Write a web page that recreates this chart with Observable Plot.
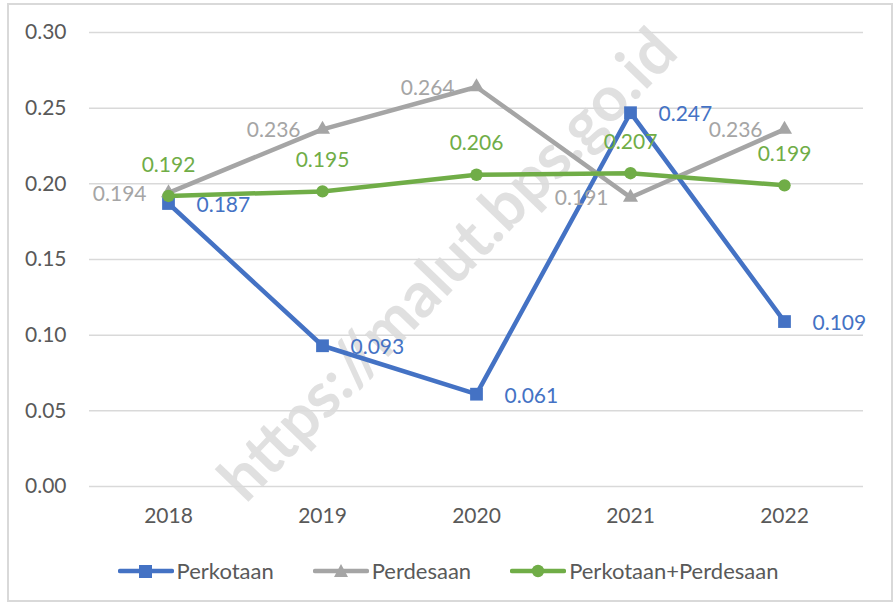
<!DOCTYPE html>
<html><head><meta charset="utf-8">
<script src="https://cdn.jsdelivr.net/npm/d3@7"></script>
<script src="https://cdn.jsdelivr.net/npm/@observablehq/plot@0.6"></script>
<style>
body{margin:0;background:#fff;font-family:Lato,sans-serif;}
#wrap{position:relative;width:896px;height:605px;overflow:hidden;background:#fff;}
#border{position:absolute;left:7px;top:3px;width:886px;height:599px;border:2px solid #d9d9d9;box-sizing:border-box;pointer-events:none}
#chart{position:absolute;left:0;top:0}
#legend{position:absolute;left:0;top:557px;width:896px;display:flex;justify-content:center;gap:39px;font-size:22px;color:#595959;}
.item{display:flex;align-items:center;gap:3px}
</style></head>
<body><div id="wrap"><div id="chart"></div><div id="legend"></div><div id="border"></div></div>
<script>
const years = ["2018","2019","2020","2021","2022"];
const perkotaan = [0.187,0.093,0.061,0.247,0.109];
const perdesaan = [0.194,0.236,0.264,0.191,0.236];
const gabungan = [0.192,0.195,0.206,0.207,0.199];
const seriesNames = ["Perkotaan","Perdesaan","Perkotaan+Perdesaan"];
const colors = ["#4472C4","#A5A5A5","#70AD47"];
const yTicks = [0,0.05,0.10,0.15,0.20,0.25,0.30];
const watermark = "https://malut.bps.go.id";

const rows = (vals) => years.map((y,i)=>({year:y, v:vals[i]}));
const dK = rows(perkotaan), dD = rows(perdesaan), dG = rows(gabungan);
const fmt = d3.format(".3f");

const chart = Plot.plot({
  width: 896, height: 545,
  marginLeft: 89, marginRight: 33, marginTop: 32, marginBottom: 59,
  style: {fontFamily: "Lato, sans-serif", fontSize: "21px", color: "#595959", background: "transparent"},
  x: {type: "point", domain: years, padding: 0.5, label: null},
  y: {domain: [0, 0.30], label: null},
  marks: [
    Plot.ruleY(yTicks, {stroke: "#d9d9d9", strokeWidth: 1.5}),
    Plot.text([watermark], {frameAnchor: "middle", rotate: -46, dx: -28, dy: 6, fontSize: 63, fontWeight: "bold", fill: "#dadada", fillOpacity: 0.85}),
    Plot.axisY({ticks: yTicks, tickSize: 0, tickPadding: 23, tickFormat: d3.format(".2f"), fontSize: 21, fill: "#595959"}),
    Plot.axisX({tickSize: 0, tickPadding: 22, fontSize: 21, fill: "#595959"}),
    Plot.line(dK, {x: "year", y: "v", stroke: colors[0], strokeWidth: 4.5}),
    Plot.dot(dK, {x: "year", y: "v", symbol: "square", r: 7.2, fill: colors[0]}),
    Plot.line(dD, {x: "year", y: "v", stroke: colors[1], strokeWidth: 4.5}),
    Plot.dot(dD, {x: "year", y: "v", symbol: "triangle", r: 5.6, fill: colors[1]}),
    Plot.line(dG, {x: "year", y: "v", stroke: colors[2], strokeWidth: 4.5}),
    Plot.dot(dG, {x: "year", y: "v", symbol: "circle", r: 6.2, fill: colors[2]}),
    Plot.text(dK, {x: "year", y: "v", text: d => fmt(d.v), textAnchor: "start", dx: 28, dy: 2, fill: colors[0], fontSize: 21}),
    Plot.text(dD, {x: "year", y: "v", text: d => fmt(d.v), textAnchor: "end", dx: -22, dy: 1, fill: colors[1], fontSize: 21}),
    Plot.text(dG, {x: "year", y: "v", text: d => fmt(d.v), textAnchor: "middle", dy: -31, fill: colors[2], fontSize: 21})
  ]
});
document.getElementById("chart").appendChild(chart);

const symbolsSvg = [
  c => `<rect x="21" y="1" width="13" height="13" fill="${c}"/>`,
  c => `<path d="M28 0 L35 13 L21 13 Z" fill="${c}"/>`,
  c => `<circle cx="28" cy="7" r="6.2" fill="${c}"/>`
];
const legend = document.getElementById("legend");
seriesNames.forEach((name,i)=>{
  const el = document.createElement("div");
  el.className = "item";
  el.innerHTML = `<svg width="56" height="14"><line x1="2" y1="7" x2="54" y2="7" stroke="${colors[i]}" stroke-width="4.5" stroke-linecap="round"/>${symbolsSvg[i](colors[i])}</svg><span>${name}</span>`;
  legend.appendChild(el);
});
</script></body></html>
